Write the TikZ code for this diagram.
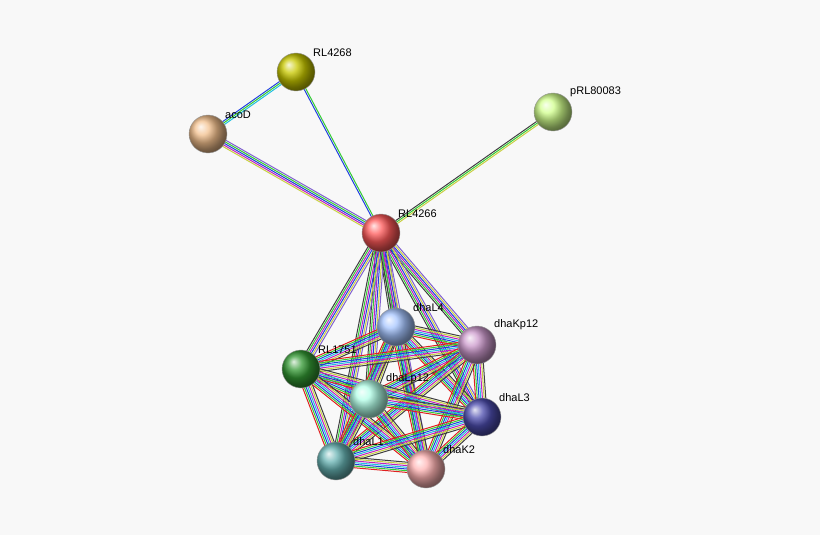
\documentclass[tikz,border=0pt]{standalone}
\usepackage{fontspec}
\setmainfont{Liberation Sans}
\usetikzlibrary{calc}
\definecolor{bg}{HTML}{F8F8F8}
\definecolor{eg}{HTML}{33CC33}
\definecolor{er}{HTML}{E02020}
\definecolor{eb}{HTML}{2040E0}
\definecolor{ec}{HTML}{20C0E0}
\definecolor{em}{HTML}{C020C0}
\definecolor{ey}{HTML}{C8D040}
\definecolor{ek}{HTML}{404040}
\definecolor{ep}{HTML}{8060D0}
\tikzset{ball/.style={circle,minimum size=38pt,inner sep=0pt,draw=black!40,ball color=#1},
lab/.style={anchor=south west,font=\fontsize{11}{13}\selectfont,inner sep=1pt}}
\newcommand\medge[4]{\foreach \c [count=\i] in {#4}{\pgfmathsetmacro\off{#3+(\i-1)*1.7}\draw[\c,line width=1pt] ($(#1)!\off pt!90:(#2)$) -- ($(#2)!\off pt!-90:(#1)$);}}
\begin{document}
\begin{tikzpicture}[x=1pt,y=1pt]
\fill[bg] (0,0) rectangle (820,-535);
\useasboundingbox (0,0) rectangle (820,-535);
\coordinate (RL4268) at (296,-72);
\coordinate (acoD) at (208,-134);
\coordinate (pRL80083) at (553,-112);
\coordinate (RL4266) at (381,-233);
\coordinate (dhaL4) at (396,-327);
\coordinate (dhaKp12) at (477,-345);
\coordinate (RL1751) at (301,-369);
\coordinate (dhaLp12) at (369,-399);
\coordinate (dhaL3) at (482,-417);
\coordinate (dhaL1) at (336,-461);
\coordinate (dhaK2) at (426,-469);
\medge{RL4268}{acoD}{-1.7}{eb,eg,ec}
\medge{RL4268}{RL4266}{-0.85}{eb,eg}
\medge{acoD}{RL4266}{-3.4}{ey,em,eb,eg,ep}
\medge{pRL80083}{RL4266}{-1.7}{ek,eg,ey}
\foreach \t in {dhaL4,dhaKp12,RL1751,dhaLp12,dhaL3,dhaL1,dhaK2}
  {\medge{RL4266}{\t}{-4.2}{ek,eg,em,eb,ey,ep}}
\foreach \a/\b in {dhaL4/dhaKp12,dhaL4/RL1751,dhaL4/dhaLp12,dhaL4/dhaL3,dhaL4/dhaL1,dhaL4/dhaK2,
 dhaKp12/RL1751,dhaKp12/dhaLp12,dhaKp12/dhaL3,dhaKp12/dhaL1,dhaKp12/dhaK2,
 RL1751/dhaLp12,RL1751/dhaL3,RL1751/dhaL1,RL1751/dhaK2,
 dhaLp12/dhaL3,dhaLp12/dhaL1,dhaLp12/dhaK2,dhaL3/dhaL1,dhaL3/dhaK2,dhaL1/dhaK2}
  {\medge{\a}{\b}{-5.1}{er,eg,eb,ec,em,ey,ek}}
\foreach \n/\c in {RL4268/{olive!55!yellow!80!white},acoD/{brown!40!orange!50!white},pRL80083/{green!40!yellow!45!white},
 RL4266/{red!65!white},dhaL4/{cyan!35!blue!35!white},dhaKp12/{violet!40!white},RL1751/{green!50!black!80!white},
 dhaLp12/{green!30!cyan!30!white},dhaL3/{blue!55!black!70!white},dhaL1/{teal!60!white},dhaK2/{red!30!white}}
 {\node[ball=\c] (n\n) at (\n) {};
  \node[lab] (l\n) at ($(\n)+(16,14)$) {\n};}
\end{tikzpicture}
\end{document}
